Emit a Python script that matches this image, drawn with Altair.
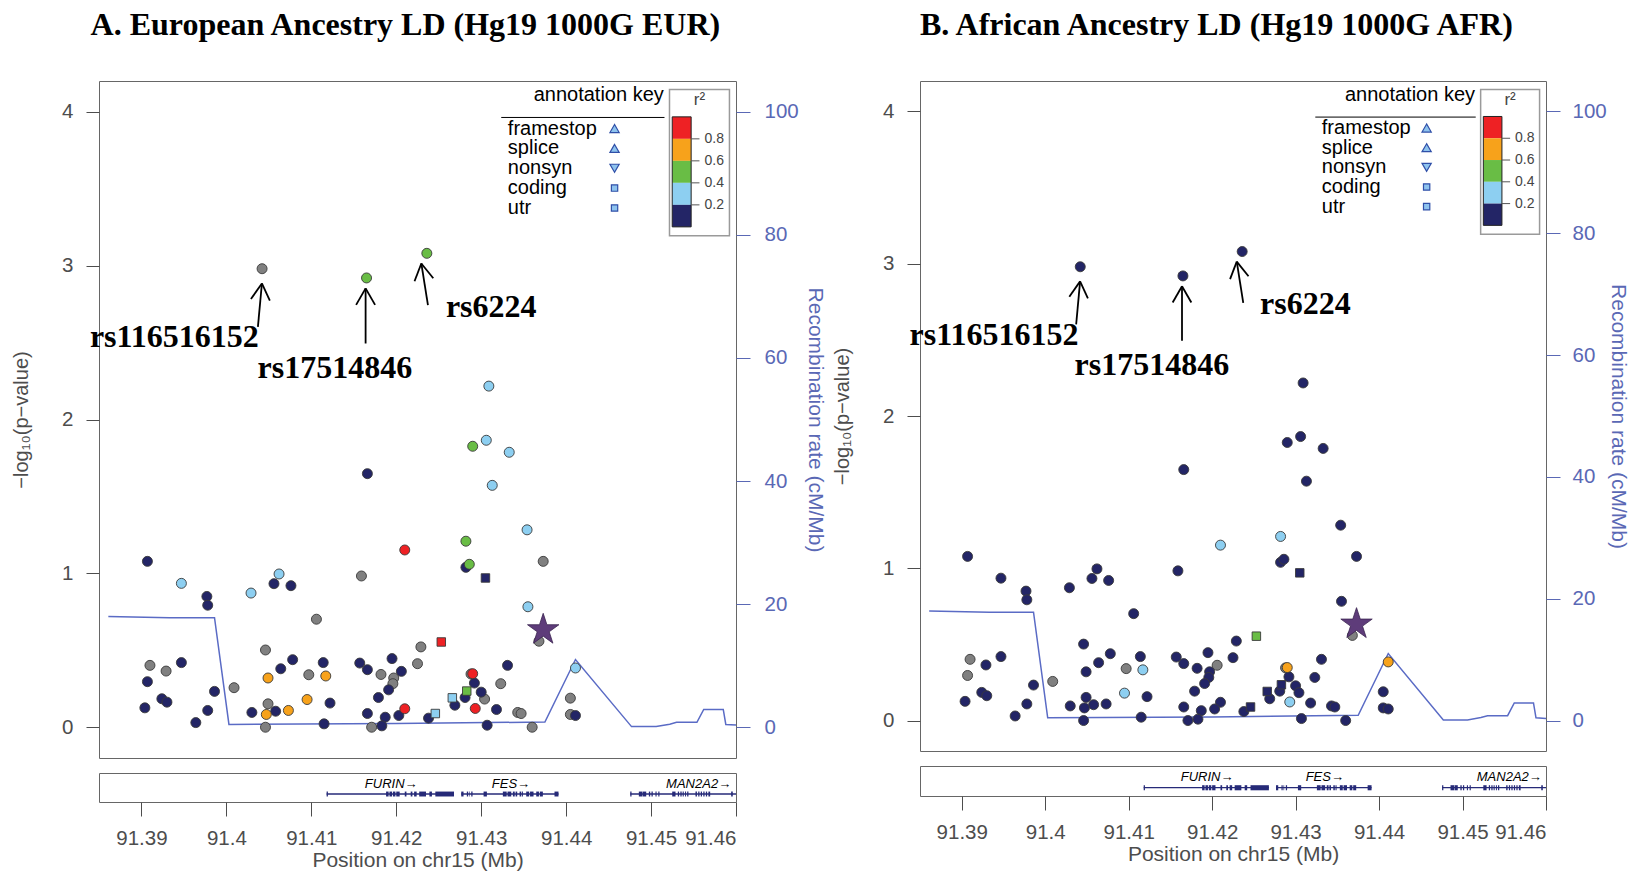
import math
import altair as alt
import pandas as pd

# ------------------------------------------------------------------ data
snp_pos = [
    91.4042, 91.4165, 91.4236, 91.4309, 91.4290, 91.4306, 91.4333, 91.4166, 91.4313, 91.4354,
    91.4210, 91.4282, 91.4373, 91.3907, 91.4282, 91.4286, 91.4305, 91.4159, 91.3947, 91.4062,
    91.4056, 91.4076, 91.4029, 91.3977, 91.3978, 91.4106, 91.4355, 91.4368, 91.4253, 91.4229,
    91.4046, 91.4078, 91.3947, 91.3910, 91.3929, 91.3907, 91.4064, 91.4114, 91.4049, 91.4097,
    91.4117, 91.4157, 91.4166, 91.4182, 91.4195, 91.4197, 91.4196, 91.4206, 91.4225, 91.4191,
    91.4179, 91.4288, 91.4290, 91.4292, 91.4323, 91.4331, 91.4300, 91.4283, 91.4281, 91.4304,
    91.4266, 91.4269, 91.4293, 91.4318, 91.4246, 91.4238, 91.4343, 91.4347, 91.4360, 91.4307,
    91.4210, 91.4203, 91.4187, 91.4183, 91.4171, 91.4166, 91.4122, 91.4115, 91.4095, 91.4073,
    91.4058, 91.4049, 91.4047, 91.4046, 91.4030, 91.4009, 91.3986, 91.3978, 91.3964, 91.3924,
    91.3930, 91.3904, 91.4411, 91.4405, 91.4405, 91.4411,
]
snp_logp = [
    2.980, 2.920, 3.080, 2.217, 1.826, 1.865, 1.787, 1.648, 1.572, 1.283,
    1.152, 1.209, 1.078, 1.078, 1.039, 1.059, 0.970, 0.983, 0.935, 0.996,
    0.933, 0.920, 0.872, 0.850, 0.793, 0.702, 0.783, 0.559, 0.554, 0.522,
    0.502, 0.439, 0.420, 0.402, 0.365, 0.296, 0.380, 0.420, 0.320, 0.341,
    0.333, 0.417, 0.374, 0.343, 0.446, 0.320, 0.283, 0.363, 0.413, 0.243,
    0.193, 0.346, 0.348, 0.287, 0.283, 0.402, 0.228, 0.235, 0.193, 0.183,
    0.191, 0.143, 0.122, 0.115, 0.089, 0.059, 0.096, 0.089, 0.000, 0.013,
    0.120, 0.076, 0.065, 0.009, 0.000, 0.089, 0.157, 0.022, 0.180, 0.109,
    0.104, 0.152, 0.083, 0.000, 0.096, 0.257, 0.233, 0.109, 0.030, 0.185,
    0.163, 0.126, 0.385, 0.189, 0.083, 0.076,
]
# LD (r2) class per SNP: x = NA, n = <0.2, b = 0.2-0.4, g = 0.4-0.6, o = 0.6-0.8, r = 0.8-1
ld_eur = (
    "x g g b g b b n b b "
    "r g x n n g n x b b "
    "n n b n n x b x r x "
    "x n n x x n n n o x "
    "o n n x n x x n x n "
    "n x r n x n n g n x "
    "b n r n b n x x x n "
    "r n n n x n n n o o "
    "n x o x n x n n n n "
    "n n b x x n"
).split()
ld_afr = (
    "n n n n n n n n n n "
    "b b n n n n n n n n "
    "n n n n n n n x g n "
    "n n n x n x n n n x "
    "b n n n n n n x n n "
    "n x o n n n n n n n "
    "n n b n n n n n n n "
    "n n n n n n n n b n "
    "n n n n n x n n n n "
    "n n o n n n"
).split()
# functional annotation: c = coding (square), - = none (circle)
snp_anno = (
    "- - - - - - - - - - "
    "- - - - - - c - - - "
    "- - - - - - - - c - "
    "- - - - - - - - - - "
    "- - - - - - - - - - "
    "- - - - - - - c - - "
    "c - - - c - - - - - "
    "- - - - - - - - - - "
    "- - - - - - - - - - "
    "- - - - - -"
).split()

index_pos = [91.4373]
index_logp = [0.633]

label_text = ["rs116516152", "rs17514846", "rs6224"]
label_pos = [91.39387, 91.41278, 91.43118]
label_logp = [2.468, 2.267, 2.667]
arrow_tail_pos = [91.40371, 91.41639, 91.42373]
arrow_tail_logp = [2.602, 2.494, 2.743]
arrow_tip_pos = [91.40418, 91.41639, 91.42295]
arrow_tip_logp = [2.884, 2.852, 3.014]

rec_pos = [91.3861, 91.3933, 91.3986, 91.4003, 91.4200, 91.4375, 91.4411, 91.4477,
           91.4506, 91.4522, 91.4530, 91.4554, 91.4562, 91.4585, 91.4588, 91.4600]
rec_rate = [18.0, 17.8, 17.8, 0.45, 0.6, 0.85, 11.0, 0.1,
            0.1, 0.5, 0.8, 0.8, 2.9, 2.9, 0.45, 0.35]

gene_names = ["FURIN", "FES", "MAN2A2"]
gene_start = [91.4118, 91.42765, 91.44755]
gene_end = [91.4268, 91.4391, 91.4600]
gene_label_pos = [91.4194, 91.4335, 91.4556]
exon_start = [
    91.4118, 91.4188, 91.4192, 91.4196, 91.4200, 91.4210, 91.4217, 91.4221, 91.4227, 91.4239, 91.4246,
    91.42765, 91.42831, 91.42855, 91.42883, 91.43028, 91.43255, 91.43310, 91.43373, 91.43405,
    91.43452, 91.43478, 91.43530, 91.43575, 91.43648, 91.43690, 91.43863,
    91.44755, 91.44856, 91.44905, 91.44974, 91.45005, 91.45052, 91.45085, 91.45249, 91.45315,
    91.45345, 91.45372, 91.45400, 91.45425, 91.45523, 91.45555, 91.45585, 91.45615, 91.45645,
    91.45675, 91.45943,
]
exon_end = [
    91.41195, 91.4191, 91.4195, 91.4199, 91.4204, 91.4212, 91.4219, 91.4224, 91.4235, 91.4242, 91.4268,
    91.42792, 91.42845, 91.42863, 91.42898, 91.43067, 91.43300, 91.43354, 91.43395, 91.43424,
    91.43470, 91.43491, 91.43565, 91.43616, 91.43680, 91.43726, 91.43910,
    91.44770, 91.44900, 91.44943, 91.44990, 91.45020, 91.45065, 91.45099, 91.45288, 91.45330,
    91.45360, 91.45385, 91.45412, 91.45440, 91.45540, 91.45570, 91.45600, 91.45630, 91.45660,
    91.45696, 91.45962,
]

ann_names = ["framestop", "splice", "nonsyn", "coding", "utr"]
ann_shapes = ["triangle-up", "triangle-up", "triangle-down", "square", "square"]
r2_bar_classes = ["r", "o", "g", "b", "n"]  # top -> bottom
r2_breaks = ["0.8", "0.6", "0.4", "0.2"]

x_ticks = [91.39, 91.40, 91.41, 91.42, 91.43, 91.44, 91.45, 91.46]

# ------------------------------------------------------------------ style
LD_CODES = ["x", "n", "b", "g", "o", "r"]
LD_COLORS = ["#808080", "#232566", "#8dcff1", "#69bd45", "#f7a21b", "#ee2124"]
STAR_COL = "#5e3c7a"
REC_COL = "#5a6bc5"
RAX_COL = "#5a68b5"
GRAY = "#4d4d4d"
GENE_COL = "#262a78"
KEY_FILL = "#8ec3ee"
KEY_STROKE = "#2f4fa8"
SERIF = "Liberation Serif"
STAR_PATH = ("M0,-1L0.2245,-0.309L0.9511,-0.309L0.3633,0.118L0.5878,0.809L0,0.382"
             "L-0.5878,0.809L-0.3633,0.118L-0.9511,-0.309L-0.2245,-0.309Z")

XDOM = [91.385, 91.46]
YDOM = [-0.2, 4.2]
RDOM = [-5, 105]

# approximate pixel density of the plot frame, used only to shape arrow heads
PX_PER_MB = 8496.0
PX_PER_LOGP = 153.9
HEAD_LEN, HEAD_HALF_ANGLE = 19.0, 30.0

# legend layout (data units of the plot)
KEY_TITLE_X, KEY_TITLE_Y = 91.4515, 4.108
KEY_LINE_X0, KEY_LINE_X1, KEY_LINE_Y = 91.43236, 91.45158, 3.963
KEY_TXT_X, KEY_SYM_X, KEY_Y0, KEY_DY = 91.43314, 91.4457, 3.891, 0.129
R2_BOX = (91.45217, 91.45923, 4.145, 3.194)
R2_BAR_X0, R2_BAR_X1, R2_BAR_TOP, R2_BAR_DY = 91.45249, 91.45472, 3.967, 0.143
R2_TICK_X1, R2_LAB_X = 91.4557, 91.45629
R2_TITLE = (91.4557, 4.075)


def arrow_segments():
    """Shaft + two barbs per arrow, as x/x2/y/y2 segments in data units."""
    rows = []
    for tp, tl, hp, hl in zip(arrow_tail_pos, arrow_tail_logp, arrow_tip_pos, arrow_tip_logp):
        rows.append((tp, tl, hp, hl))
        dx = (hp - tp) * PX_PER_MB
        dy = (hl - tl) * PX_PER_LOGP
        ang = math.atan2(dy, dx)
        for s in (-1, 1):
            a = ang + math.pi + s * math.radians(HEAD_HALF_ANGLE)
            bx = hp + HEAD_LEN * math.cos(a) / PX_PER_MB
            by = hl + HEAD_LEN * math.sin(a) / PX_PER_LOGP
            rows.append((hp, hl, bx, by))
    return pd.DataFrame(rows, columns=["x0", "y0", "x1", "y1"])


def panel(ld, title, w, h, gh, title_dx, r_lab_pad, r_title_pad):
    xs = alt.Scale(domain=XDOM, nice=False, zero=False)
    ys = alt.Scale(domain=YDOM, nice=False, zero=False)
    yax = alt.Axis(values=[0, 1, 2, 3, 4], tickSize=13, labelPadding=13, labelFontSize=20.5,
                   labelColor=GRAY, tickColor=GRAY, tickWidth=1, domain=False, grid=False,
                   title="−log₁₀(p−value)", titleFontSize=20, titleColor=GRAY,
                   titleFontWeight="normal", titlePadding=30)

    def X(f):
        return alt.X(f, type="quantitative", scale=xs, axis=None)

    def Y(f):
        return alt.Y(f, type="quantitative", scale=ys, axis=yax)

    cscale = alt.Scale(domain=LD_CODES, range=LD_COLORS)

    df = pd.DataFrame({"pos": snp_pos, "logp": snp_logp, "ld": ld, "anno": snp_anno})
    df["rank"] = [LD_CODES.index(c) for c in ld]
    df = df.sort_values("rank", kind="stable")
    color = alt.Color("ld:N", scale=cscale, legend=None)

    circles = alt.Chart(df[df["anno"] == "-"]).mark_point(
        shape="circle", filled=True, size=100, opacity=1, stroke="#3a3a3a", strokeWidth=0.9
    ).encode(x=X("pos"), y=Y("logp"), color=color)
    squares = alt.Chart(df[df["anno"] == "c"]).mark_point(
        shape="square", filled=True, size=72, opacity=1, stroke="#3a3a3a", strokeWidth=0.9
    ).encode(x=X("pos"), y=Y("logp"), color=color)

    star = alt.Chart(pd.DataFrame({"pos": index_pos, "logp": index_logp})).mark_point(
        shape=STAR_PATH, filled=True, size=1090, opacity=1, color=STAR_COL,
        stroke="#3b2450", strokeWidth=0.8
    ).encode(x=X("pos"), y=Y("logp"))

    arrows = alt.Chart(arrow_segments()).mark_rule(color="black", strokeWidth=1.8).encode(
        x=X("x0"), x2=alt.X2("x1"), y=Y("y0"), y2=alt.Y2("y1"))

    labels = alt.Chart(pd.DataFrame({"pos": label_pos, "logp": label_logp, "t": label_text})).mark_text(
        font=SERIF, fontSize=32, fontWeight="bold", color="black", baseline="alphabetic", align="center"
    ).encode(x=X("pos"), y=Y("logp"), text="t:N")

    # ---- annotation key legend
    kt = alt.Chart(pd.DataFrame({"px": [KEY_TITLE_X], "py": [KEY_TITLE_Y], "t": ["annotation key"]})).mark_text(
        align="right", baseline="middle", fontSize=20, color="black"
    ).encode(x=X("px"), y=Y("py"), text="t:N")
    kline = alt.Chart(pd.DataFrame({"x0": [KEY_LINE_X0], "x1": [KEY_LINE_X1], "py": [KEY_LINE_Y]})).mark_rule(
        color="black", strokeWidth=1
    ).encode(x=X("x0"), x2=alt.X2("x1"), y=Y("py"))
    kdf = pd.DataFrame({"t": ann_names, "sym": ann_shapes})
    kdf["py"] = [KEY_Y0 - i * KEY_DY for i in range(len(ann_names))]
    kdf["tx"] = KEY_TXT_X
    kdf["sx"] = KEY_SYM_X
    ktext = alt.Chart(kdf).mark_text(align="left", baseline="middle", fontSize=20, color="black").encode(
        x=X("tx"), y=Y("py"), text="t:N")
    ksym = []
    for sname, ssize in [("triangle-up", 85), ("triangle-down", 85), ("square", 40)]:
        ksym.append(
            alt.Chart(kdf[kdf["sym"] == sname]).mark_point(
                shape=sname, size=ssize, filled=True, fill=KEY_FILL, stroke=KEY_STROKE,
                strokeWidth=1.2, opacity=1
            ).encode(x=X("sx"), y=Y("py"))
        )

    # ---- r2 colour bar legend
    box = alt.Chart(pd.DataFrame({"x0": [R2_BOX[0]], "x1": [R2_BOX[1]], "y0": [R2_BOX[2]], "y1": [R2_BOX[3]]})).mark_rect(
        fillOpacity=0, stroke="#9a9a9a", strokeWidth=1.5
    ).encode(x=X("x0"), x2=alt.X2("x1"), y=Y("y0"), y2=alt.Y2("y1"))
    bdf = pd.DataFrame({"ld": r2_bar_classes})
    bdf["y0"] = [R2_BAR_TOP - i * R2_BAR_DY for i in range(len(r2_bar_classes))]
    bdf["y1"] = bdf["y0"] - R2_BAR_DY
    bdf["x0"] = R2_BAR_X0
    bdf["x1"] = R2_BAR_X1
    bar = alt.Chart(bdf).mark_rect().encode(
        x=X("x0"), x2=alt.X2("x1"), y=Y("y0"), y2=alt.Y2("y1"), color=color)
    bar_border = alt.Chart(pd.DataFrame({"x0": [R2_BAR_X0], "x1": [R2_BAR_X1], "y0": [R2_BAR_TOP],
                                         "y1": [R2_BAR_TOP - len(r2_bar_classes) * R2_BAR_DY]})).mark_rect(
        fillOpacity=0, stroke="#222222", strokeWidth=1
    ).encode(x=X("x0"), x2=alt.X2("x1"), y=Y("y0"), y2=alt.Y2("y1"))
    tdf = pd.DataFrame({"t": r2_breaks})
    tdf["py"] = [R2_BAR_TOP - (i + 1) * R2_BAR_DY for i in range(len(r2_breaks))]
    tdf["x0"] = R2_BAR_X1
    tdf["x1"] = R2_TICK_X1
    tdf["lx"] = R2_LAB_X
    ticks = alt.Chart(tdf).mark_rule(color="#555555", strokeWidth=1).encode(
        x=X("x0"), x2=alt.X2("x1"), y=Y("py"))
    tlab = alt.Chart(tdf).mark_text(align="left", baseline="middle", fontSize=14, color="#444444").encode(
        x=X("lx"), y=Y("py"), text="t:N")
    r2t = alt.Chart(pd.DataFrame({"px": [R2_TITLE[0]], "py": [R2_TITLE[1]], "t": ["r²"]})).mark_text(
        align="center", baseline="middle", fontSize=17, color="#444444"
    ).encode(x=X("px"), y=Y("py"), text="t:N")

    rec = alt.Chart(pd.DataFrame({"pos": rec_pos, "rate": rec_rate})).mark_line(
        color=REC_COL, strokeWidth=1.5
    ).encode(
        x=X("pos"),
        y=alt.Y("rate:Q", scale=alt.Scale(domain=RDOM, nice=False, zero=False),
                axis=alt.Axis(orient="right", values=[0, 20, 40, 60, 80, 100], tickSize=14,
                              labelPadding=r_lab_pad, labelFontSize=20.5, labelColor=RAX_COL,
                              tickColor=RAX_COL, domain=False, grid=False,
                              title="Recombination rate (cM/Mb)", titleFontSize=21,
                              titleColor=RAX_COL, titleFontWeight="normal",
                              titlePadding=r_title_pad)),
    )

    inner = alt.layer(circles, squares, star, arrows, labels, kt, kline, ktext, *ksym,
                      box, bar, bar_border, ticks, tlab, r2t)
    main = alt.layer(rec, inner).resolve_scale(y="independent").properties(width=w, height=h)

    # ---- gene track
    gax = alt.Axis(values=x_ticks, format="~g", tickSize=14, labelPadding=12, labelFontSize=20.5,
                   labelColor=GRAY, tickColor=GRAY, domain=False, grid=False,
                   title="Position on chr15 (Mb)", titleFontSize=21, titleColor=GRAY,
                   titleFontWeight="normal", titlePadding=1)

    def GX(f):
        return alt.X(f, type="quantitative", scale=xs, axis=gax)

    gdf = pd.DataFrame({"start": gene_start, "end": gene_end, "lp": gene_label_pos,
                        "lab": [g + "→" for g in gene_names]})
    edf = pd.DataFrame({"start": exon_start, "end": exon_end})
    gl = alt.Chart(gdf).mark_rule(color=GENE_COL, strokeWidth=1.3).encode(
        x=GX("start"), x2=alt.X2("end"), y=alt.value(gh * 0.724))
    ge = alt.Chart(edf).mark_rect(color=GENE_COL).encode(
        x=GX("start"), x2=alt.X2("end"), y=alt.value(gh * 0.64), y2=alt.value(gh * 0.81))
    gt = alt.Chart(gdf).mark_text(fontStyle="italic", fontSize=13, color="black", baseline="middle").encode(
        x=GX("lp"), y=alt.value(gh * 0.38), text="lab:N")
    genes = alt.layer(gl, ge, gt).properties(width=w, height=gh)

    return alt.vconcat(main, genes, spacing=13).properties(
        title=alt.TitleParams(title, font=SERIF, fontSize=32, fontWeight="bold", color="black",
                              anchor="middle", dx=title_dx, offset=39)
    )


pA = panel(ld_eur, "A. European Ancestry LD (Hg19 1000G EUR)", 637, 677, 29, -13, 14, 6)
pB = panel(ld_afr, "B. African Ancestry LD (Hg19 1000G AFR)", 626, 670, 30, -14, 12, 1)

chart = alt.hconcat(pA, pB, spacing=6).resolve_scale(
    x="independent", y="independent", color="independent"
).properties(
    padding={"left": 3, "top": 0, "right": 0, "bottom": 0}
).configure(font="Liberation Sans", background="white").configure_view(stroke="#666666", strokeWidth=1)

chart.save("out.html", embed_options={"renderer": "svg", "actions": False})
